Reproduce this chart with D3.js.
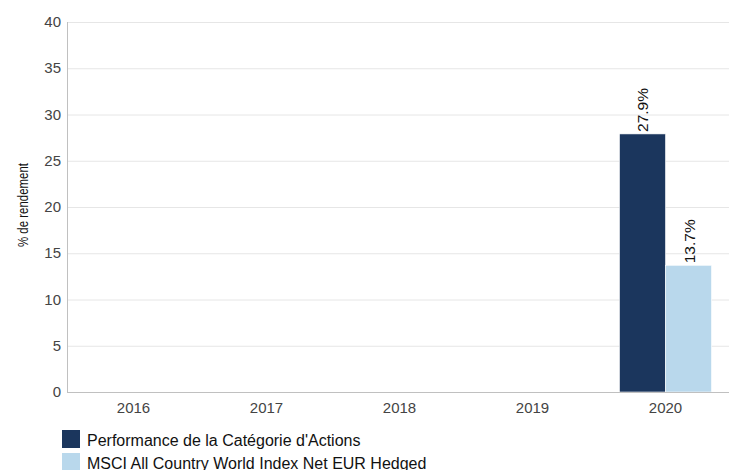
<!DOCTYPE html>
<html>
<head>
<meta charset="utf-8">
<script src="https://cdn.jsdelivr.net/npm/d3@7"></script>
<style>
  body { margin: 0; background: #fff; }
  svg { display: block; font-family: "Liberation Sans", Arial, sans-serif; }
</style>
</head>
<body>
<div id="chart"></div>
<script>
const years = ["2016", "2017", "2018", "2019", "2020"];
const categoryPerf = [null, null, null, null, 27.9];
const indexPerf = [null, null, null, null, 13.7];
const seriesNames = ["Performance de la Catégorie d'Actions", "MSCI All Country World Index Net EUR Hedged"];
const seriesColors = ["#1b365d", "#b9d8ec"];
const yTicks = [0, 5, 10, 15, 20, 25, 30, 35, 40];

const width = 729, height = 470;
const margin = { top: 22, right: -3, bottom: 78, left: 67 };

const svg = d3.select("#chart")
  .append("svg")
  .attr("width", width)
  .attr("height", height);

const x = d3.scaleBand()
  .domain(years)
  .range([margin.left, width - margin.right]);

const xInner = d3.scaleBand()
  .domain([0, 1])
  .range([0, x.bandwidth()])
  .paddingOuter(0.445);

const y = d3.scaleLinear()
  .domain([0, 40])
  .range([height - margin.bottom, margin.top]);

// gridlines
svg.append("g")
  .selectAll("line")
  .data(yTicks.slice(1))
  .join("line")
    .attr("x1", margin.left)
    .attr("x2", width)
    .attr("y1", d => y(d) + 0.5)
    .attr("y2", d => y(d) + 0.5)
    .attr("stroke", "#e6e6e6");

// y tick labels
svg.append("g")
  .selectAll("text")
  .data(yTicks)
  .join("text")
    .attr("x", margin.left - 6)
    .attr("y", d => y(d) + 5)
    .attr("text-anchor", "end")
    .attr("font-size", 15)
    .attr("fill", "#444")
    .text(d => d);

// bars
const rows = years.map((yr, i) => ({ year: yr, values: [categoryPerf[i], indexPerf[i]] }));

const groups = svg.append("g")
  .selectAll("g")
  .data(rows)
  .join("g")
    .attr("transform", d => `translate(${x(d.year)},0)`);

groups.selectAll("rect")
  .data(d => d.values.map((v, k) => ({ v, k })).filter(d => d.v != null))
  .join("rect")
    .attr("x", d => xInner(d.k))
    .attr("width", xInner.bandwidth())
    .attr("y", d => y(d.v))
    .attr("height", d => y(0) - y(d.v))
    .attr("fill", d => seriesColors[d.k])
    .attr("stroke", "#fff")
    .attr("stroke-width", 0.6);

groups.selectAll("text")
  .data(d => d.values.map((v, k) => ({ v, k })).filter(d => d.v != null))
  .join("text")
    .attr("transform", d => `translate(${xInner(d.k) + xInner.bandwidth() / 2 + 6},${y(d.v) - 2}) rotate(-90)`)
    .attr("font-size", 15.5)
    .attr("fill", "#111")
    .text(d => d.v.toFixed(1) + "%");

// axis lines
svg.append("line")
  .attr("x1", margin.left + 0.5).attr("x2", margin.left + 0.5)
  .attr("y1", margin.top).attr("y2", y(0))
  .attr("stroke", "#c0c0c0");
svg.append("line")
  .attr("x1", margin.left).attr("x2", width)
  .attr("y1", y(0) + 0.5).attr("y2", y(0) + 0.5)
  .attr("stroke", "#c0c0c0");

// x labels
svg.append("g")
  .selectAll("text")
  .data(years)
  .join("text")
    .attr("x", d => x(d) + x.bandwidth() / 2)
    .attr("y", y(0) + 21)
    .attr("text-anchor", "middle")
    .attr("font-size", 15)
    .attr("fill", "#444")
    .text(d => d);

// y axis title (condensed look via textLength)
svg.append("text")
  .attr("transform", `translate(28,${(margin.top + y(0)) / 2 - 2}) rotate(-90)`)
  .attr("text-anchor", "middle")
  .attr("font-size", 15)
  .attr("textLength", 84)
  .attr("lengthAdjust", "spacingAndGlyphs")
  .attr("fill", "#111")
  .text("% de rendement");

// legend
const legend = svg.append("g")
  .selectAll("g")
  .data(seriesNames)
  .join("g")
    .attr("transform", (d, i) => `translate(62,${430 + i * 23})`);

legend.append("rect")
  .attr("width", 18)
  .attr("height", 18)
  .attr("fill", (d, i) => seriesColors[i]);

legend.append("text")
  .attr("x", 25)
  .attr("y", 16)
  .attr("font-size", 16)
  .attr("fill", "#111")
  .text(d => d);
</script>
</body>
</html>
